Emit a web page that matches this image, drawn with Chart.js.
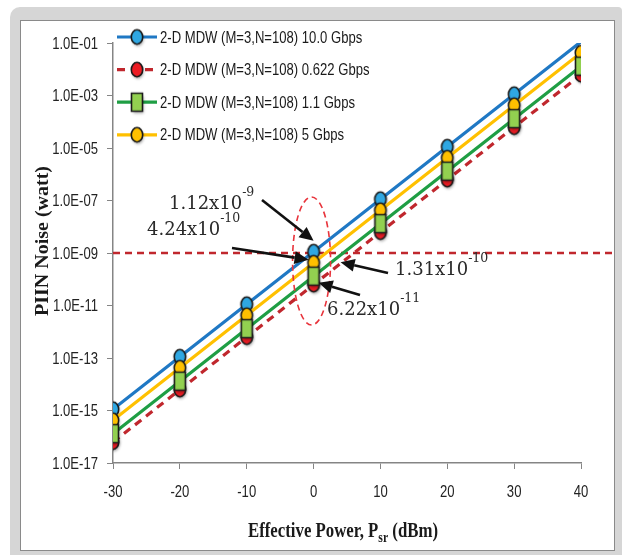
<!DOCTYPE html>
<html>
<head>
<meta charset="utf-8">
<script src="https://cdn.jsdelivr.net/npm/chart.js@4.4.1/dist/chart.umd.min.js"></script>
<style>
  html, body { margin: 0; padding: 0; background: #fff; }
</style>
</head>
<body>
<canvas id="piinChart" width="622" height="555"></canvas>
<script>
// values (PIIN noise in watt vs effective power in dBm)
const powerDbm   = [-30, -20, -10, 0, 10, 20, 30, 40];
const noise10G   = [1.12e-15, 1.12e-13, 1.12e-11, 1.12e-9, 1.12e-7, 1.12e-5, 1.12e-3, 1.12e-1];
const noise0622G = [6.22e-17, 6.22e-15, 6.22e-13, 6.22e-11, 6.22e-9, 6.22e-7, 6.22e-5, 6.22e-3];
const noise1G    = [1.31e-16, 1.31e-14, 1.31e-12, 1.31e-10, 1.31e-8, 1.31e-6, 1.31e-4, 1.31e-2];
const noise5G    = [4.24e-16, 4.24e-14, 4.24e-12, 4.24e-10, 4.24e-8, 4.24e-6, 4.24e-4, 4.24e-2];
const seriesLabels = [
    '2-D MDW (M=3,N=108) 10.0 Gbps',
    '2-D MDW (M=3,N=108) 0.622 Gbps',
    '2-D MDW (M=3,N=108) 1.1 Gbps',
    '2-D MDW (M=3,N=108) 5 Gbps'
];
const xTickValues = [-30, -20, -10, 0, 10, 20, 30, 40];
const yTickValues = [1e-17, 1e-15, 1e-13, 1e-11, 1e-9, 1e-7, 1e-5, 1e-3, 1e-1];
const thresholdNoise = 1e-9;
const calloutPower = 0;

const sansFont = "'Liberation Sans', Arial, sans-serif";
const serifFont = "'DejaVu Serif', serif";
const titleFont = "'Liberation Serif', serif";
const squeeze = 0.77;   // the source picture is narrow, text is condensed

function makeMarker(shape, fill) {
    const c = document.createElement('canvas');
    const pad = 4;
    const w = 14, h = shape === 'square' ? 21 : 17;
    c.width = w + pad * 2;
    c.height = h + pad * 2;
    const g = c.getContext('2d');
    g.translate(pad, pad);
    g.lineWidth = 1.6;
    g.strokeStyle = '#1a1a1a';
    g.fillStyle = fill;
    g.shadowColor = 'rgba(0,0,0,0.35)';
    g.shadowBlur = 3;
    g.shadowOffsetX = 1;
    g.shadowOffsetY = 2;
    g.beginPath();
    if (shape === 'square') g.rect(1.5, 1.5, w - 3, h - 3);
    else g.ellipse(w / 2, h / 2, w / 2 - 1.3, h / 2 - 1.3, 0, 0, Math.PI * 2);
    g.fill();
    g.shadowColor = 'transparent';
    g.stroke();
    return c;
}

function points(values) {
    return powerDbm.map((p, i) => ({ x: p, y: values[i] }));
}

function sciLabel(v) {
    const exp = Math.round(Math.log10(v));
    return '1.0E' + (exp < 0 ? '-' : '+') + String(Math.abs(exp)).padStart(2, '0');
}

const markers = [
    makeMarker('circle', '#2fa7e2'),
    makeMarker('circle', '#ec1c24'),
    makeMarker('square', '#92d050'),
    makeMarker('circle', '#ffc000')
];
const lineColors = ['#1f78c4', '#c0272d', '#1f9e44', '#ffc000'];
const lineDashes = [[], [8, 6], [], []];

const datasets = [noise10G, noise0622G, noise1G, noise5G].map((vals, i) => ({
    label: seriesLabels[i],
    data: points(vals),
    borderColor: lineColors[i],
    borderWidth: 3.2,
    borderDash: lineDashes[i],
    pointStyle: markers[i],
    pointRadius: i === 0 ? [6, 6, 6, 6, 6, 6, 6, 0] : 6,
    tension: 0,
    order: [3, 2, 0, 1][i]
}));

// draw text made of parts (sub/superscripts), with optional width or horizontal squeeze
function drawParts(ctx, parts, x, y, opts) {
    opts = opts || {};
    let natural = 0;
    parts.forEach(p => {
        ctx.font = p.font;
        p.w = ctx.measureText(p.text).width;
        natural += p.w;
    });
    const sx = opts.width ? opts.width / natural : (opts.scaleX || 1);
    const total = natural * sx;
    let left = x;
    if (opts.align === 'center') left = x - total / 2;
    if (opts.align === 'right') left = x - total;
    ctx.save();
    ctx.textAlign = 'left';
    ctx.translate(left, y);
    ctx.scale(sx, 1);
    let cx = 0;
    parts.forEach(p => {
        ctx.font = p.font;
        ctx.fillText(p.text, cx, p.dy || 0);
        cx += p.w;
    });
    ctx.restore();
}

function arrow(ctx, x1, y1, x2, y2) {
    const ang = Math.atan2(y2 - y1, x2 - x1);
    const len = 14, half = 6.5;
    const bx = x2 - len * Math.cos(ang), by = y2 - len * Math.sin(ang);
    ctx.beginPath();
    ctx.moveTo(x1, y1);
    ctx.lineTo(bx, by);
    ctx.stroke();
    ctx.beginPath();
    ctx.moveTo(x2, y2);
    ctx.lineTo(bx + half * Math.sin(ang), by - half * Math.cos(ang));
    ctx.lineTo(bx - half * Math.sin(ang), by + half * Math.cos(ang));
    ctx.closePath();
    ctx.fill();
}

const framePlugin = {
    id: 'frame',
    beforeDraw(chart) {
        const ctx = chart.ctx;
        ctx.save();
        ctx.fillStyle = '#ffffff';
        ctx.fillRect(0, 0, chart.width, chart.height);
        ctx.fillStyle = '#d6d6d6';
        ctx.beginPath();
        ctx.roundRect(10, 7, 612, 548, [10, 4, 0, 0]);
        ctx.fill();
        ctx.fillStyle = '#ffffff';
        ctx.fillRect(20, 20, 595, 531);
        ctx.strokeStyle = '#8a8a8a';
        ctx.lineWidth = 1;
        ctx.strokeRect(20.5, 20.5, 594, 530);
        ctx.restore();
    },
    beforeDatasetsDraw(chart) {
        const ctx = chart.ctx, y = chart.scales.y;
        const ty = y.getPixelForValue(thresholdNoise);
        ctx.save();
        ctx.strokeStyle = '#c0272d';
        ctx.lineWidth = 2.6;
        ctx.setLineDash([7, 5]);
        ctx.beginPath();
        ctx.moveTo(chart.chartArea.left, ty);
        ctx.lineTo(612, ty);
        ctx.stroke();
        ctx.restore();
    },
    afterDraw(chart) {
        const ctx = chart.ctx, xs = chart.scales.x, ys = chart.scales.y;
        const area = chart.chartArea;
        const px = xs.getPixelForValue(calloutPower);
        const idx = powerDbm.indexOf(calloutPower);
        ctx.save();

        // tick labels, condensed like the source
        ctx.fillStyle = '#222';
        ctx.textBaseline = 'middle';
        ys.ticks.forEach(t => {
            drawParts(ctx, [{ text: sciLabel(t.value), font: '17px ' + sansFont }],
                area.left - 15, ys.getPixelForValue(t.value) + 1, { scaleX: squeeze, align: 'right' });
        });
        xs.ticks.forEach(t => {
            drawParts(ctx, [{ text: String(t.value), font: '17px ' + sansFont }],
                xs.getPixelForValue(t.value), area.bottom + 29, { scaleX: squeeze, align: 'center' });
        });

        // ellipse around the 0 dBm points
        ctx.strokeStyle = '#e8333b';
        ctx.lineWidth = 1.6;
        ctx.setLineDash([6, 4]);
        ctx.beginPath();
        ctx.ellipse(px - 2, ys.getPixelForValue(thresholdNoise) + 8, 19, 64, 0, 0, Math.PI * 2);
        ctx.stroke();
        ctx.setLineDash([]);

        // callouts
        const callouts = [
            { vals: noise10G,   text: '1.12x10', sup: '-9',  tx: 169, ty: 209, tail: [262, 200], off: [0, -11] },
            { vals: noise5G,    text: '4.24x10', sup: '-10', tx: 147, ty: 235, tail: [232, 248], off: [-5, -3] },
            { vals: noise1G,    text: '1.31x10', sup: '-10', tx: 395, ty: 275, tail: [388, 273], off: [27, -14] },
            { vals: noise0622G, text: '6.22x10', sup: '-11', tx: 327, ty: 315, tail: [360, 295], off: [5, -2] }
        ];
        ctx.fillStyle = '#111';
        ctx.strokeStyle = '#111';
        ctx.lineWidth = 2.6;
        callouts.forEach(c => {
            const py = ys.getPixelForValue(c.vals[idx]);
            arrow(ctx, c.tail[0], c.tail[1], px + c.off[0], py + c.off[1]);
        });
        ctx.fillStyle = '#2a2a2a';
        ctx.textBaseline = 'alphabetic';
        callouts.forEach(c => {
            drawParts(ctx, [
                { text: c.text, font: '18px ' + serifFont },
                { text: c.sup, font: '12.5px ' + serifFont, dy: -13 }
            ], c.tx, c.ty);
        });

        // legend
        ctx.textBaseline = 'middle';
        seriesLabels.forEach((label, i) => {
            const ry = 37 + i * 32.6;
            ctx.strokeStyle = lineColors[i];
            ctx.lineWidth = 3.2;
            ctx.setLineDash(lineDashes[i]);
            ctx.beginPath();
            ctx.moveTo(117, ry);
            ctx.lineTo(157, ry);
            ctx.stroke();
            ctx.setLineDash([]);
            const m = markers[i];
            ctx.drawImage(m, 137 - m.width / 2, ry - m.height / 2);
            ctx.fillStyle = '#1a1a1a';
            drawParts(ctx, [{ text: label, font: '17px ' + sansFont }], 160, ry + 1, { scaleX: squeeze });
        });

        // axis titles
        ctx.fillStyle = '#1a1a1a';
        ctx.textBaseline = 'alphabetic';
        drawParts(ctx, [
            { text: 'Effective Power, P', font: 'bold 20px ' + titleFont },
            { text: 'sr', font: 'bold 14px ' + titleFont, dy: 5 },
            { text: ' (dBm)', font: 'bold 20px ' + titleFont }
        ], 343, 537, { width: 190, align: 'center' });

        ctx.save();
        ctx.translate(42, 241);
        ctx.rotate(-Math.PI / 2);
        ctx.textBaseline = 'middle';
        drawParts(ctx, [{ text: 'PIIN Noise (watt)', font: 'bold 19px ' + titleFont }], 0, 1, { width: 150, align: 'center' });
        ctx.restore();

        ctx.restore();
    }
};

const axisGray = '#858585';

new Chart(document.getElementById('piinChart').getContext('2d'), {
    type: 'line',
    data: { datasets: datasets },
    options: {
        responsive: false,
        animation: false,
        layout: { padding: { top: 43, right: 41, bottom: 0, left: 0 } },
        plugins: {
            legend: { display: false },
            tooltip: { enabled: false }
        },
        scales: {
            x: {
                type: 'linear',
                min: -30,
                max: 40,
                afterBuildTicks: scale => { scale.ticks = xTickValues.map(v => ({ value: v })); },
                afterFit: scale => { scale.height = 92; },
                grid: { drawOnChartArea: false, drawTicks: true, tickLength: 6, color: axisGray },
                border: { color: axisGray, width: 1.5 },
                ticks: { display: false }
            },
            y: {
                type: 'logarithmic',
                min: 1e-17,
                max: 1e-1,
                afterBuildTicks: scale => { scale.ticks = yTickValues.map(v => ({ value: v })); },
                afterFit: scale => { scale.width = 113; },
                grid: { drawOnChartArea: false, drawTicks: true, tickLength: 6, color: axisGray },
                border: { color: axisGray, width: 1.5 },
                ticks: { display: false }
            }
        }
    },
    plugins: [framePlugin]
});
</script>
</body>
</html>
